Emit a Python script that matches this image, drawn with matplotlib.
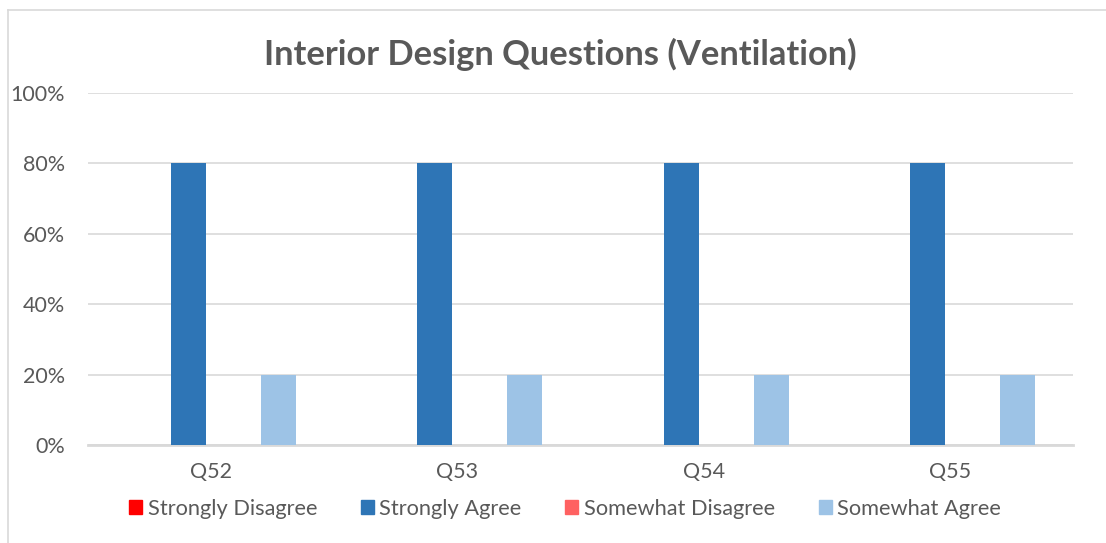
import numpy as np
import matplotlib.pyplot as plt
from matplotlib.lines import Line2D

categories = ['Q52', 'Q53', 'Q54', 'Q55']
series_names = ['Strongly Disagree', 'Strongly Agree', 'Somewhat Disagree', 'Somewhat Agree']
strongly_disagree = [0.0, 0.0, 0.0, 0.0]
strongly_agree = [0.8, 0.8, 0.8, 0.8]
somewhat_disagree = [0.0, 0.0, 0.0, 0.0]
somewhat_agree = [0.2, 0.2, 0.2, 0.2]
colors = ['#FF0000', '#2E75B6', '#FF6161', '#9DC3E6']

plt.rcParams['font.family'] = ['Lato', 'DejaVu Sans']
text_color = '#595959'
grid_color = '#d9d9d9'

fig = plt.figure(figsize=(11.06, 5.43), dpi=100)
ax = fig.add_axes([88 / 1106, 1 - 445 / 543, (1073 - 88) / 1106, (445 - 93) / 543])

x = np.arange(len(categories))
pitch = 0.183
width = 0.142
all_series = [strongly_disagree, strongly_agree, somewhat_disagree, somewhat_agree]
for i, (name, vals) in enumerate(zip(series_names, all_series)):
    ax.bar(x + (i - 1.5) * pitch, vals, width=width, color=colors[i], label=name, zorder=3)

ax.set_xlim(-0.5, len(categories) - 0.5)
ax.set_ylim(0, 1)
ax.set_yticks(np.arange(0, 1.01, 0.2))
ax.set_yticklabels([f'{int(round(v * 100))}%' for v in np.arange(0, 1.01, 0.2)])
ax.set_xticks(x)
ax.set_xticklabels(categories)
ax.yaxis.grid(True, color=grid_color, linewidth=1.2, zorder=0)
ax.tick_params(axis='both', length=0, labelsize=15.5, colors=text_color)
ax.tick_params(axis='x', pad=12)
ax.tick_params(axis='y', pad=16.5)
for s in ['top', 'right', 'left']:
    ax.spines[s].set_visible(False)
ax.spines['bottom'].set_color(grid_color)
ax.spines['bottom'].set_linewidth(2)

fig.text(0.507, 1 - 54 / 543, 'Interior Design Questions (Ventilation)', ha='center', va='center',
         fontsize=24.8, fontweight='bold', color=text_color)

handles = [plt.Rectangle((0, 0), 1, 1, color=c) for c in colors]
leg = fig.legend(handles, series_names, loc='center', bbox_to_anchor=(0.511, 1 - 509 / 543), ncol=4,
                 frameon=False, fontsize=15.7, handlelength=0.6, handleheight=0.6, handletextpad=0.25,
                 columnspacing=2.0)
for t in leg.get_texts():
    t.set_color(text_color)

# chart frame lines (top and left)
fig.add_artist(Line2D([8 / 1106, 1], [1 - 10 / 543, 1 - 10 / 543], color=grid_color, linewidth=1.2))
fig.add_artist(Line2D([8 / 1106, 8 / 1106], [0, 1 - 10 / 543], color=grid_color, linewidth=1.2))

fig.savefig('out.png', dpi=100)
